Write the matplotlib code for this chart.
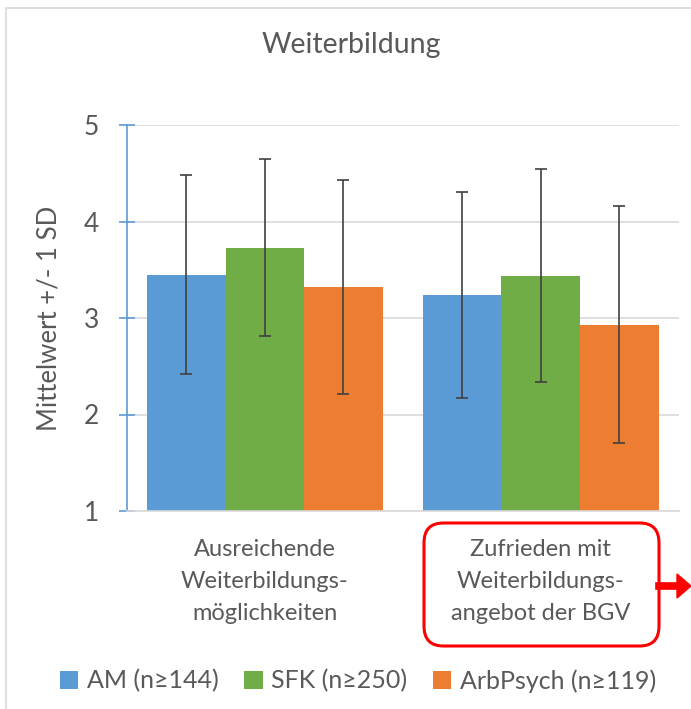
import matplotlib
matplotlib.use("Agg")
import matplotlib.pyplot as plt
import numpy as np
from matplotlib.patches import FancyBboxPatch, Rectangle

plt.rcParams['font.family'] = ['Lato', 'DejaVu Sans']

categories = ["Ausreichende\nWeiterbildungs-\nmöglichkeiten",
              "Zufrieden mit\nWeiterbildungs-\nangebot der BGV"]
series = ["AM (n≥144)", "SFK (n≥250)", "ArbPsych (n≥119)"]
means = [[3.45, 3.24],
         [3.73, 3.44],
         [3.32, 2.93]]
sds = [[1.03, 1.07],
       [0.92, 1.10],
       [1.11, 1.23]]
colors = ["#5B9BD5", "#70AD47", "#ED7D31"]
text_col = "#595959"

fig = plt.figure(figsize=(6.91, 7.09), dpi=100)
# chart frame
fig.patches.append(Rectangle((6/691, -0.05), 1.2, 1 - 8/709 + 0.05,
                             transform=fig.transFigure, fill=False,
                             edgecolor="#D9D9D9", lw=1.2))

ax = fig.add_axes([127/691, 1 - 511/709, (678.5 - 127)/691, (511 - 125)/709])
x = np.arange(len(categories))
w = 0.285
for i in range(3):
    ax.bar(x + (i - 1) * w, means[i], w, bottom=0, color=colors[i],
           label=series[i], zorder=2)
    ax.errorbar(x + (i - 1) * w, means[i], yerr=sds[i], fmt='none',
                ecolor="#404040", elinewidth=1.2, capsize=4, capthick=1.2,
                zorder=3)

ax.set_xlim(-0.5, 1.5)
ax.set_ylim(1, 5)
ax.set_yticks([1, 2, 3, 4, 5])
ax.yaxis.grid(True, color="#D9D9D9", lw=1.2, zorder=0)
for s in ["top", "right"]:
    ax.spines[s].set_visible(False)
ax.spines["left"].set_color("#5B9BD5")
ax.spines["left"].set_linewidth(1.2)
ax.spines["bottom"].set_color("#D9D9D9")
ax.spines["bottom"].set_linewidth(1.2)
ax.tick_params(axis='y', direction='inout', length=12, width=1.2,
               color="#5B9BD5", labelsize=19, labelcolor=text_col, pad=14)
ax.set_xticks(x)
ax.set_xticklabels(categories)
ax.tick_params(axis='x', length=0, labelsize=17, labelcolor=text_col, pad=20)
for t in ax.get_xticklabels():
    t.set_linespacing(1.65)
ax.set_ylabel("Mittelwert +/- 1 SD", fontsize=18.5, color=text_col, labelpad=16)

fig.text(351/691, 1 - 45/709, "Weiterbildung", ha="center", va="center",
         fontsize=20.5, color=text_col)

# red highlight box + arrow
fig.patches.append(FancyBboxPatch((424/691, 1 - 646/709), (659 - 424)/691,
                                  (646 - 523)/709,
                                  boxstyle="round,pad=0,rounding_size=0.028",
                                  transform=fig.transFigure, fill=False,
                                  edgecolor="#FF0000", lw=2.2))
fig.add_artist(plt.Line2D([659/691, 680/691], [1 - 586/709] * 2,
                          transform=fig.transFigure, color="#FF0000", lw=5.5))
fig.add_artist(plt.Polygon([[677/691, 1 - 574/709], [691/691, 1 - 586/709],
                            [677/691, 1 - 598/709]], closed=True,
                           transform=fig.transFigure, color="#FF0000"))

leg = fig.legend(loc="center", bbox_to_anchor=(358/691, 1 - 681/709), ncol=3,
                 frameon=False, fontsize=18, handlelength=0.75, handleheight=0.75,
                 handletextpad=0.35, columnspacing=1.0)
for t in leg.get_texts():
    t.set_color(text_col)

fig.savefig("out.png", dpi=100)
